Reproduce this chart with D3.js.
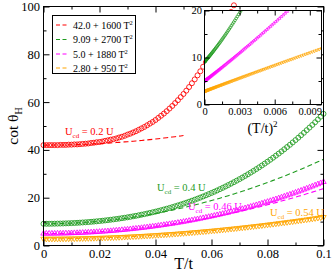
<!DOCTYPE html>
<html><head><meta charset="utf-8">
<script src="https://cdn.jsdelivr.net/npm/d3@7"></script>
<style>body{margin:0;background:#fff}svg{display:block}</style>
</head><body>
<script>
// ---- data ----
const tGrid = d3.range(0, 101).map(i => i / 1000); // T/t sampling, step 0.001

const seriesNames = ["Ucd=0.2U", "Ucd=0.4U", "Ucd=0.46U", "Ucd=0.54U"];
const seriesColors = ["#ff0000", "#1e9b1e", "#ff00ff", "#ffa500"];
const subLabels = ["0.2 U", "0.4 U", "0.46 U", "0.54 U"];

const cotRed = [42.0,42.0,42.0,42.0,42.0,42.0,42.1,42.1,42.1,42.2,42.2,42.3,42.3,42.4,42.5,42.6,42.7,42.9,43.0,43.2,
43.3,43.5,43.8,44.0,44.3,44.5,44.8,45.2,45.5,45.9,46.4,46.8,47.3,47.8,48.4,49.0,49.6,50.3,51.0,51.7,
52.5,53.4,54.3,55.2,56.2,57.3,58.4,59.6,60.8,62.1,63.4,64.8,66.3,67.9,69.5,71.2,72.9,74.8,76.7,78.7,
80.7,82.9,85.1,87.5,89.9,92.4,95.0,97.7,100.5];
const cotGreen = [9.09,9.09,9.10,9.11,9.13,9.16,9.19,9.22,9.27,9.31,9.37,9.42,9.49,9.56,9.64,9.72,9.81,9.91,10.01,10.12,
10.24,10.36,10.49,10.63,10.77,10.93,11.09,11.25,11.43,11.61,11.80,12.00,12.21,12.42,12.65,12.88,13.12,13.37,13.63,13.90,
14.18,14.47,14.76,15.07,15.39,15.72,16.06,16.41,16.77,17.14,17.52,17.91,18.32,18.73,19.16,19.60,20.05,20.52,21.00,21.49,
21.99,22.50,23.03,23.58,24.13,24.70,25.29,25.89,26.50,27.13,27.77,28.43,29.10,29.79,30.50,31.22,31.96,32.71,33.48,34.27,
35.07,35.89,36.73,37.59,38.46,39.36,40.27,41.20,42.14,43.11,44.10,45.11,46.13,47.18,48.25,49.34,50.44,51.57,52.72,53.90,55.09];
const cotMagenta = [5.00,5.00,5.01,5.02,5.03,5.05,5.07,5.09,5.12,5.15,5.19,5.23,5.27,5.32,5.37,5.43,5.49,5.55,5.62,5.69,
5.76,5.84,5.92,6.01,6.10,6.20,6.30,6.40,6.51,6.62,6.73,6.85,6.98,7.11,7.24,7.37,7.51,7.66,7.81,7.96,
8.12,8.28,8.45,8.62,8.80,8.98,9.16,9.35,9.55,9.74,9.95,10.15,10.37,10.58,10.81,11.03,11.26,11.50,11.74,11.99,
12.24,12.49,12.75,13.02,13.29,13.56,13.84,14.13,14.42,14.71,15.02,15.32,15.63,15.95,16.27,16.60,16.93,17.27,17.61,17.96,
18.31,18.67,19.04,19.41,19.79,20.17,20.56,20.95,21.35,21.75,22.16,22.58,23.00,23.43,23.87,24.31,24.75,25.21,25.66,26.13,26.60];
const cotOrange = [2.80,2.80,2.80,2.81,2.82,2.82,2.83,2.85,2.86,2.88,2.90,2.91,2.94,2.96,2.99,3.01,3.04,3.07,3.11,3.14,
3.18,3.22,3.26,3.30,3.34,3.39,3.44,3.49,3.54,3.59,3.65,3.71,3.77,3.83,3.89,3.95,4.02,4.09,4.16,4.23,
4.30,4.38,4.46,4.54,4.62,4.70,4.78,4.87,4.96,5.05,5.14,5.23,5.33,5.43,5.52,5.62,5.73,5.83,5.94,6.04,
6.15,6.26,6.38,6.49,6.61,6.72,6.85,6.97,7.09,7.21,7.34,7.47,7.60,7.73,7.86,8.00,8.13,8.27,8.41,8.55,
8.70,8.84,8.99,9.14,9.29,9.44,9.59,9.74,9.90,10.06,10.22,10.38,10.54,10.71,10.87,11.04,11.21,11.38,11.55,11.73,11.90];

// fits from the legend: a + b T^2, drawn up to tMax
const fitA = [42.0, 9.09, 5.0, 2.80];
const fitB = [1600, 2700, 1880, 950];
const fitALabel = ["42.0", "9.09", "5.0", "2.80"];
const fitTMax = [0.05, 0.1, 0.1, 0.1];

const xTicks = [0, 0.02, 0.04, 0.06, 0.08, 0.1];
const xTickLabels = ["0", "0.02", "0.04", "0.06", "0.08", "0.1"];
const xMinor = [0.01, 0.03, 0.05, 0.07, 0.09];
const yTicks = [0, 20, 40, 60, 80, 100];
const yMinor = [10, 30, 50, 70, 90];
const ixTicks = [0, 0.003, 0.006, 0.009];
const ixTickLabels = ["0", "0.003", "0.006", "0.009"];
const ixMinor = [0.0015, 0.0045, 0.0075];
const iyTicks = [0, 10, 20];
const iyMinor = [5, 15];

const allSeries = [cotRed, cotGreen, cotMagenta, cotOrange];
const symbolKinds = ["circle", "circle", "tri-up", "tri-down"];

// ---- drawing ----
const FONT = "Liberation Serif";
const W = 332, H = 273;
const svg = d3.select("body").append("svg").attr("width", W).attr("height", H);

const x = d3.scaleLinear().domain([0, 0.1]).range([43.5, 323.5]);
const y = d3.scaleLinear().domain([0, 100]).range([245.5, 6.5]);

function drawMarkers(g, pts, kind, color, size, sw) {
  if (kind === "circle") {
    g.selectAll("circle").data(pts).join("circle")
      .attr("cx", d => d[0]).attr("cy", d => d[1]).attr("r", size / 2)
      .attr("fill", "none").attr("stroke", color).attr("stroke-width", sw);
  } else {
    const sym = d3.symbol().type(d3.symbolTriangle).size(size * size * 0.5);
    g.selectAll("path").data(pts).join("path")
      .attr("d", sym)
      .attr("transform", d => `translate(${d[0]},${d[1]})` + (kind === "tri-down" ? " rotate(180)" : ""))
      .attr("fill", "none").attr("stroke", color).attr("stroke-width", sw);
  }
}

// main markers
allSeries.forEach((vals, k) => {
  const pts = vals.map((v, i) => [x(tGrid[i]), y(v)]);
  drawMarkers(svg.append("g"), pts, symbolKinds[k], seriesColors[k], 5, 0.85);
});

// fit dashed lines
const line = d3.line().x(d => x(d[0])).y(d => y(d[1]));
fitA.forEach((a, k) => {
  const ts = tGrid.filter(t => t <= fitTMax[k] + 1e-9);
  svg.append("path").datum(ts.map(t => [t, a + fitB[k] * t * t]))
    .attr("d", line).attr("fill", "none").attr("stroke", seriesColors[k])
    .attr("stroke-width", 1.1).attr("stroke-dasharray", "5,3");
});

// axes (ticks inward on all sides)
function axisSet(sc, orient, pos, major, minor, labels, big, small, pad, fs) {
  const mk = orient === "bottom" ? d3.axisBottom : orient === "top" ? d3.axisTop : orient === "left" ? d3.axisLeft : d3.axisRight;
  const tr = (orient === "bottom" || orient === "top") ? `translate(0,${pos})` : `translate(${pos},0)`;
  const g1 = svg.append("g").attr("transform", tr)
    .call(mk(sc).tickValues(major).tickSize(-big).tickSizeOuter(0).tickPadding(pad)
      .tickFormat(labels ? ((d, i) => labels[i]) : () => ""));
  const g2 = svg.append("g").attr("transform", tr)
    .call(mk(sc).tickValues(minor).tickSize(-small).tickSizeOuter(0).tickFormat(() => ""));
  [g1, g2].forEach(g => {
    g.attr("font-family", FONT).attr("font-size", fs);
    g.select(".domain").remove();
    g.selectAll("line").attr("stroke", "#000");
    g.selectAll("text").attr("font-family", FONT).attr("font-size", fs).attr("fill", "#000");
  });
  return g1;
}
axisSet(x, "bottom", 245.5, xTicks, xMinor, xTickLabels, 6, 3, 3.5, 12.5);
axisSet(x, "top", 6.5, xTicks, xMinor, null, 6, 3, 3, 12);
axisSet(y, "left", 43.5, yTicks, yMinor, yTicks.map(String), 6, 3, 3.5, 12.5);
axisSet(y, "right", 323.5, yTicks, yMinor, null, 6, 3, 3, 12);
svg.append("rect").attr("x", 43.5).attr("y", 6.5).attr("width", 280).attr("height", 239)
  .attr("fill", "none").attr("stroke", "#000").attr("stroke-width", 1);

// axis titles
svg.append("text").attr("x", 183.5).attr("y", 269).attr("text-anchor", "middle")
  .attr("font-family", FONT).attr("font-size", 16).text("T/t");
const yl = svg.append("text").attr("transform", "translate(18,126) rotate(-90)")
  .attr("text-anchor", "middle").attr("font-family", FONT).attr("font-size", 15.5);
yl.append("tspan").text("cot θ");
yl.append("tspan").attr("font-size", 10).attr("dy", 4).text("H");

// ---- inset ----
const xi = d3.scaleLinear().domain([0, 0.01]).range([204.5, 321.5]);
const yi = d3.scaleLinear().domain([0, 20]).range([104.5, 10.5]);
svg.append("rect").attr("x", 204.5).attr("y", 10.5).attr("width", 117).attr("height", 94)
  .attr("fill", "#fff");
svg.append("clipPath").attr("id", "ic").append("rect")
  .attr("x", 204.5).attr("y", 10.5).attr("width", 117).attr("height", 94);
const ig = svg.append("g").attr("clip-path", "url(#ic)");
allSeries.forEach((vals, k) => {
  const pts = vals.map((v, i) => [xi(tGrid[i] * tGrid[i]), yi(v)]).filter(p => p[1] > 5);
  drawMarkers(ig.append("g"), pts, symbolKinds[k], seriesColors[k], 2.8, 0.7);
});
axisSet(xi, "bottom", 104.5, ixTicks, ixMinor, ixTickLabels, 5, 3, 3.5, 10.5);
axisSet(xi, "top", 10.5, ixTicks, ixMinor, null, 5, 3, 3, 10);
axisSet(yi, "left", 204.5, iyTicks, iyMinor, iyTicks.map(String), 5, 3, 2.5, 10.5);
axisSet(yi, "right", 321.5, iyTicks, iyMinor, null, 5, 3, 3, 10);
svg.append("rect").attr("x", 204.5).attr("y", 10.5).attr("width", 117).attr("height", 94)
  .attr("fill", "none").attr("stroke", "#000");
const il = svg.append("text").attr("x", 262.5).attr("y", 133).attr("text-anchor", "middle")
  .attr("font-family", FONT).attr("font-size", 14);
il.append("tspan").text("(T/t)");
il.append("tspan").attr("font-size", 9).attr("dy", -6).text("2");

// ---- series annotations ----
const annPos = [[65, 135], [157, 191], [188, 210], [270, 216]];
subLabels.forEach((s, k) => {
  const t = svg.append("text").attr("x", annPos[k][0]).attr("y", annPos[k][1])
    .attr("font-family", FONT).attr("font-size", 10.5).attr("fill", seriesColors[k]);
  t.append("tspan").text("U");
  t.append("tspan").attr("font-size", 7).attr("dy", 2.5).text("cd");
  t.append("tspan").attr("dy", -2.5).text(" = " + s);
});

// ---- legend ----
svg.append("rect").attr("x", 52.5).attr("y", 15.5).attr("width", 83).attr("height", 58)
  .attr("fill", "#fff").attr("stroke", "#000");
const rowY = [25, 39.5, 54, 68];
fitA.forEach((a, k) => {
  svg.append("line").attr("x1", 56).attr("x2", 68).attr("y1", rowY[k]).attr("y2", rowY[k])
    .attr("stroke", seriesColors[k]).attr("stroke-width", 1.1).attr("stroke-dasharray", "4,2.5");
  const t = svg.append("text").attr("x", 73).attr("y", rowY[k] + 3.5)
    .attr("font-family", FONT).attr("font-size", 10);
  t.append("tspan").text(fitALabel[k] + " + " + fitB[k] + " T");
  t.append("tspan").attr("font-size", 6.5).attr("dy", -4).text("2");
});
</script>
</body></html>
